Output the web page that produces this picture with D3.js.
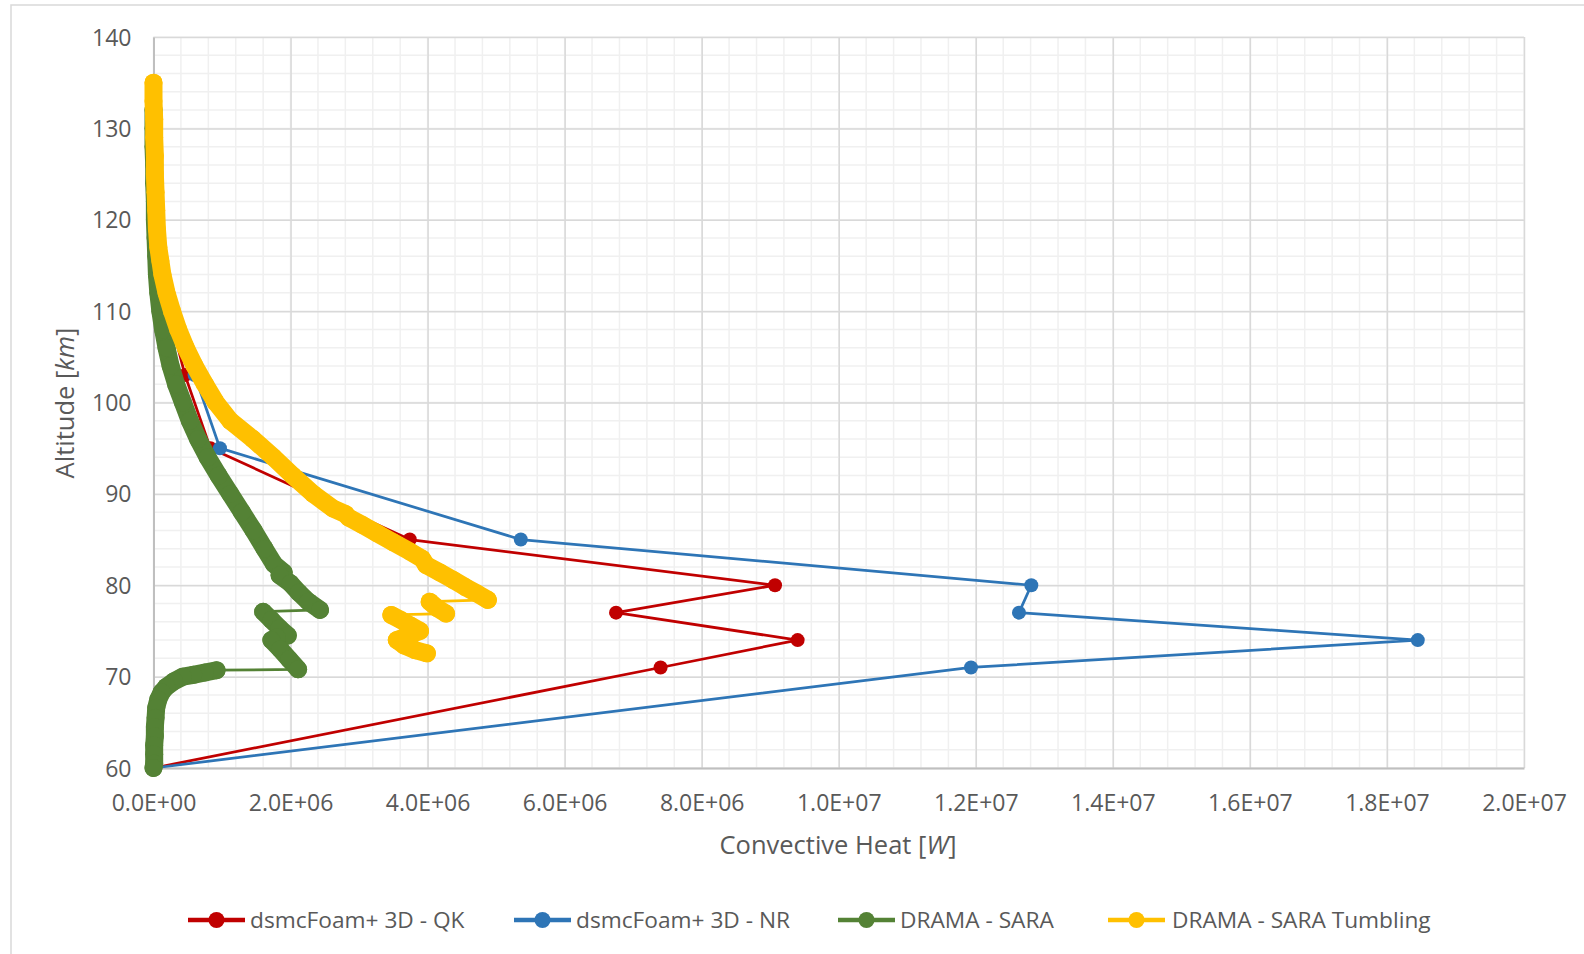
<!DOCTYPE html>
<html>
<head>
<meta charset="utf-8">
<script src="https://cdn.jsdelivr.net/npm/d3@7"></script>
<style>
  html, body { margin: 0; padding: 0; background: #ffffff; }
  svg { display: block; }
  text { font-family: "Open Sans", "Noto Sans", sans-serif; fill: #595959; }
</style>
</head>
<body>
<svg id="chart" width="1584" height="954"></svg>
<script>
// Axis ticks
const xTicks = [0, 2e6, 4e6, 6e6, 8e6, 1e7, 1.2e7, 1.4e7, 1.6e7, 1.8e7, 2e7];
const xTickLabels = ["0.0E+00", "2.0E+06", "4.0E+06", "6.0E+06", "8.0E+06", "1.0E+07",
                     "1.2E+07", "1.4E+07", "1.6E+07", "1.8E+07", "2.0E+07"];
const yTicks = [60, 70, 80, 90, 100, 110, 120, 130, 140];
const xMinorStep = 4e5;
const yMinorStep = 2;

// Series: [convective heat W, altitude km]
const seriesNames = ["dsmcFoam+ 3D - QK", "dsmcFoam+ 3D - NR", "DRAMA - SARA", "DRAMA - SARA Tumbling"];

const qk = [
  [0, 60], [7.40e6, 71], [9.40e6, 74], [6.75e6, 77], [9.07e6, 80], [3.74e6, 85],
  [0.83e6, 95], [0.46e6, 103], [0.22e6, 110], [0.05e6, 120], [0.01e6, 130]
];

const nr = [
  [0, 60], [11.93e6, 71], [18.45e6, 74], [12.63e6, 77], [12.81e6, 80], [5.36e6, 85],
  [0.97e6, 95], [0.60e6, 103], [0.28e6, 110], [0.06e6, 120], [0.01e6, 130]
];

const sara = [
  [0.00e6, 132], [0.00e6, 130], [0.00e6, 128], [0.01e6, 126], [0.01e6, 124], [0.02e6, 122],
  [0.02e6, 120], [0.03e6, 118], [0.04e6, 116], [0.05e6, 114], [0.07e6, 112], [0.10e6, 110],
  [0.14e6, 108], [0.19e6, 106], [0.25e6, 104], [0.33e6, 102], [0.43e6, 100], [0.53e6, 98],
  [0.65e6, 96], [0.79e6, 94], [0.95e6, 92], [1.12e6, 90], [1.29e6, 88], [1.46e6, 86],
  [1.62e6, 84], [1.76e6, 82.3], [1.90e6, 81.4], [1.84e6, 81.1], [2.00e6, 80.2], [2.12e6, 79.2],
  [2.26e6, 78.2], [2.43e6, 77.3],
  [1.60e6, 77.1], [1.72e6, 76.2], [1.84e6, 75.3], [1.96e6, 74.5], [1.80e6, 74.3], [1.72e6, 74.0],
  [1.85e6, 73.0], [1.98e6, 71.9], [2.11e6, 70.8],
  [0.92e6, 70.7], [0.75e6, 70.45], [0.58e6, 70.2], [0.43e6, 70.0], [0.30e6, 69.5], [0.19e6, 68.9],
  [0.12e6, 68.3], [0.07e6, 67.5], [0.04e6, 66.6], [0.03e6, 65.5], [0.02e6, 64.5], [0.02e6, 63.5],
  [0.01e6, 62.5], [0.01e6, 61.5], [0.01e6, 60.5], [0.00e6, 60.0]
];

const saraTumbling = [
  [0.00e6, 135], [0.00e6, 133], [0.01e6, 131], [0.01e6, 129], [0.02e6, 127], [0.02e6, 125],
  [0.03e6, 123], [0.04e6, 121], [0.05e6, 119], [0.07e6, 117], [0.10e6, 115.5], [0.13e6, 114],
  [0.19e6, 112], [0.27e6, 110], [0.36e6, 108], [0.47e6, 106], [0.60e6, 104], [0.75e6, 102],
  [0.91e6, 100], [1.12e6, 98], [1.45e6, 96], [1.75e6, 94], [2.03e6, 92], [2.33e6, 90],
  [2.62e6, 88.4], [2.80e6, 87.8], [2.85e6, 87.4], [3.05e6, 86.6], [3.26e6, 85.7], [3.50e6, 84.7],
  [3.74e6, 83.7], [3.92e6, 82.9], [3.98e6, 82.2], [4.18e6, 81.4], [4.37e6, 80.6], [4.55e6, 79.8],
  [4.72e6, 79.1], [4.88e6, 78.4],
  [4.03e6, 78.2], [4.14e6, 77.5], [4.27e6, 76.9],
  [3.47e6, 76.75], [3.61e6, 76.2], [3.75e6, 75.6], [3.89e6, 75.0], [3.72e6, 74.5], [3.55e6, 74.0],
  [3.66e6, 73.4], [3.82e6, 72.9], [3.99e6, 72.55]
];

const seriesColors = ["#C00000", "#2E75B6", "#548235", "#FFC000"];

// ---- layout ----
const svg = d3.select("#chart");
const plot = { left: 153.5, right: 1524, top: 37, bottom: 768 };

const x = d3.scaleLinear().domain([0, 2e7]).range([plot.left, plot.right]);
const y = d3.scaleLinear().domain([60, 140]).range([plot.bottom, plot.top]);

// chart area frame
svg.append("rect")
  .attr("x", 11).attr("y", 5).attr("width", 1640).attr("height", 1000)
  .attr("fill", "#ffffff").attr("stroke", "#d9d9d9").attr("stroke-width", 1.5);

// minor gridlines
const grid = svg.append("g");
grid.selectAll("line.vminor")
  .data(d3.range(0, 2e7 + 1, xMinorStep))
  .join("line")
  .attr("x1", d => x(d)).attr("x2", d => x(d))
  .attr("y1", plot.top).attr("y2", plot.bottom)
  .attr("stroke", "#f0f0f0").attr("stroke-width", 1.5);
grid.selectAll("line.hminor")
  .data(d3.range(60, 140.1, yMinorStep))
  .join("line")
  .attr("x1", plot.left).attr("x2", plot.right)
  .attr("y1", d => y(d)).attr("y2", d => y(d))
  .attr("stroke", "#f0f0f0").attr("stroke-width", 1.5);

// major gridlines via axes
const xGrid = d3.axisBottom(x).tickValues(xTicks).tickSize(-(plot.bottom - plot.top)).tickFormat("");
const yGrid = d3.axisLeft(y).tickValues(yTicks).tickSize(-(plot.right - plot.left)).tickFormat("");
svg.append("g").attr("transform", `translate(0,${plot.bottom})`).call(xGrid)
  .call(g => g.select(".domain").remove())
  .call(g => g.selectAll("line").attr("stroke", "#d9d9d9").attr("stroke-width", 1.5));
svg.append("g").attr("transform", `translate(${plot.left},0)`).call(yGrid)
  .call(g => g.select(".domain").remove())
  .call(g => g.selectAll("line").attr("stroke", "#d9d9d9").attr("stroke-width", 1.5));

// axis lines and labels
const xAxis = d3.axisBottom(x).tickValues(xTicks).tickSize(0).tickPadding(0)
  .tickFormat((d, i) => xTickLabels[i]);
const yAxis = d3.axisLeft(y).tickValues(yTicks).tickSize(0).tickPadding(0);

svg.append("g").attr("transform", `translate(0,${plot.bottom})`).call(xAxis)
  .call(g => g.select(".domain").attr("stroke", "#bfbfbf").attr("stroke-width", 2))
  .call(g => g.selectAll("text")
    .attr("y", 43).attr("dy", 0)
    .attr("font-size", 23).attr("fill", "#595959")
    .attr("font-family", "'Open Sans', sans-serif"));

svg.append("g").attr("transform", `translate(${plot.left},0)`).call(yAxis)
  .call(g => g.select(".domain").attr("stroke", "#bfbfbf").attr("stroke-width", 2))
  .call(g => g.selectAll("text")
    .attr("x", -22).attr("dy", "0.35em")
    .attr("font-size", 23).attr("fill", "#595959")
    .attr("font-family", "'Open Sans', sans-serif"));

// axis titles
const xTitle = svg.append("text")
  .attr("x", 838).attr("y", 854).attr("text-anchor", "middle").attr("font-size", 25.5);
xTitle.append("tspan").text("Convective Heat [");
xTitle.append("tspan").attr("font-style", "italic").text("W");
xTitle.append("tspan").text("]");

const yTitle = svg.append("text")
  .attr("transform", "translate(74,403) rotate(-90)")
  .attr("text-anchor", "middle").attr("font-size", 25.5);
yTitle.append("tspan").text("Altitude [");
yTitle.append("tspan").attr("font-style", "italic").text("km");
yTitle.append("tspan").text("]");

// ---- series ----
const line = d3.line().x(d => x(d[0])).y(d => y(d[1]));
const marks = svg.append("g");

function drawSparse(data, color, r) {
  const g = marks.append("g");
  g.append("path").attr("d", line(data)).attr("fill", "none")
    .attr("stroke", color).attr("stroke-width", 2.75).attr("stroke-linejoin", "round");
  g.selectAll("circle").data(data).join("circle")
    .attr("cx", d => x(d[0])).attr("cy", d => y(d[1])).attr("r", r).attr("fill", color);
}

// closely spaced markers merge into a continuous band
function drawDense(data, color, r) {
  const g = marks.append("g");
  g.append("path").attr("d", line(data)).attr("fill", "none")
    .attr("stroke", color).attr("stroke-width", 2.75).attr("stroke-linejoin", "round");
  const runs = [];
  let run = [data[0]];
  for (let i = 1; i < data.length; i++) {
    const a = data[i - 1], b = data[i];
    const dist = Math.hypot(x(b[0]) - x(a[0]), y(b[1]) - y(a[1]));
    if (dist < 45) run.push(b);
    else { runs.push(run); run = [b]; }
  }
  runs.push(run);
  g.selectAll("path.run").data(runs.filter(r => r.length > 1)).join("path")
    .attr("class", "run").attr("d", d => line(d)).attr("fill", "none")
    .attr("stroke", color).attr("stroke-width", 2 * r)
    .attr("stroke-linejoin", "round").attr("stroke-linecap", "round");
  g.selectAll("circle").data(data).join("circle")
    .attr("cx", d => x(d[0])).attr("cy", d => y(d[1])).attr("r", r).attr("fill", color);
}

drawSparse(qk, seriesColors[0], 7);
drawSparse(nr, seriesColors[1], 7);
drawDense(sara, seriesColors[2], 9);
drawDense(saraTumbling, seriesColors[3], 9);

// ---- legend ----
const legendY = 920;
const legendItems = [
  { x: 188, tx: 250 },
  { x: 514, tx: 576 },
  { x: 838, tx: 900 },
  { x: 1108, tx: 1172 }
];
const legend = svg.append("g");
legendItems.forEach((it, i) => {
  const g = legend.append("g");
  g.append("line").attr("x1", it.x).attr("x2", it.x + 57)
    .attr("y1", legendY).attr("y2", legendY)
    .attr("stroke", seriesColors[i]).attr("stroke-width", 4.5);
  g.append("circle").attr("cx", it.x + 28.5).attr("cy", legendY).attr("r", 8)
    .attr("fill", seriesColors[i]);
  g.append("text").attr("x", it.tx).attr("y", legendY).attr("dy", "0.36em")
    .attr("font-size", 22.7).text(seriesNames[i]);
});
</script>
</body>
</html>
